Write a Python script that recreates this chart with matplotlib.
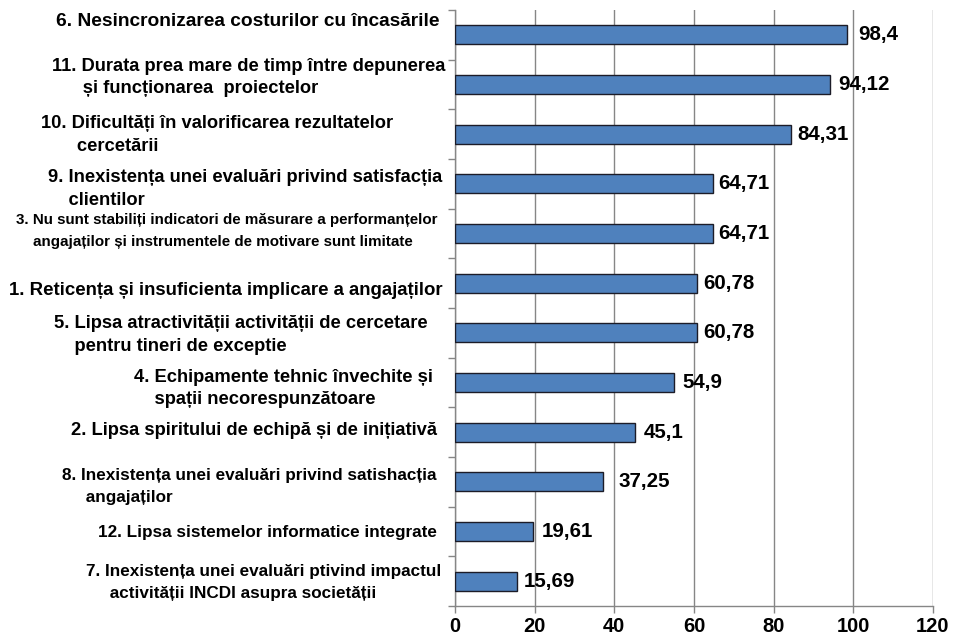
import numpy as np
import matplotlib
matplotlib.use("Agg")
import matplotlib.pyplot as plt

# Date (ordine de sus in jos)
etichete = [
    "6. Nesincronizarea costurilor cu încasările",
    "11. Durata prea mare de timp între depunerea\n      și funcționarea  proiectelor",
    "10. Dificultăți în valorificarea rezultatelor\n       cercetării",
    "9. Inexistența unei evaluări privind satisfacția\n    clientilor",
    "3. Nu sunt stabiliți indicatori de măsurare a performanțelor\n    angajaților și instrumentele de motivare sunt limitate",
    "1. Reticența și insuficienta implicare a angajaților",
    "5. Lipsa atractivității activității de cercetare\n    pentru tineri de exceptie",
    "4. Echipamente tehnic învechite și\n    spații necorespunzătoare",
    "2. Lipsa spiritului de echipă și de inițiativă",
    "8. Inexistența unei evaluări privind satishacția\n     angajaților",
    "12. Lipsa sistemelor informatice integrate",
    "7. Inexistența unei evaluări ptivind impactul\n     activității INCDI asupra societății",
]
valori = [98.4, 94.12, 84.31, 64.71, 64.71, 60.78, 60.78, 54.9, 45.1, 37.25, 19.61, 15.69]
xticks = [0, 20, 40, 60, 80, 100, 120]

# stil etichete: (dx, dy) in pixeli, marime font
deplasari = [(0, -13), (5, -7), (-47, 1), (2, 5.5), (-3, -2.5), (3, 7),
             (-12, 2), (-7, 6), (-3, -2), (-3, 5), (-3, 1), (1, 1)]
marimi = [13.8, 13.2, 13.2, 13.2, 10.9, 13.4, 13.2, 13.2, 13.2, 12.3, 12.3, 12.3]
spatii_valori = [11, 8, 7, 5, 5, 6, 6, 9, 9, 15, 9, 6]

FONT = "Liberation Sans"
DPI = 100
fig = plt.figure(figsize=(9.73, 6.37), dpi=DPI)
ax = fig.add_axes([455 / 973, 31 / 637, 478 / 973, 596 / 637])

y = np.arange(len(valori))
ax.barh(y, valori, height=0.38, color="#4F81BD", edgecolor="#1c1c28", linewidth=1.0, zorder=3)

ax.set_xlim(0, 120)
ax.set_ylim(len(valori) - 0.5, -0.5)
ax.set_xticks(xticks)
ax.set_xticklabels([str(t) for t in xticks], fontsize=14.5, fontweight="bold", family=FONT)
ax.set_yticks(np.arange(-0.5, len(valori), 1))
ax.set_yticklabels([])
ax.tick_params(axis="y", length=5, color="#868686", width=1)
ax.tick_params(axis="x", length=5, color="#868686", width=1, pad=3)
ax.grid(axis="x", color="#868686", linewidth=1, zorder=0)
for s in ["top", "right"]:
    ax.spines[s].set_visible(False)
for s in ["left", "bottom"]:
    ax.spines[s].set_color("#868686")
    ax.spines[s].set_linewidth(1)

# aprox. 24 px intre randuri
px = 72 / DPI
for i, (txt, v) in enumerate(zip(etichete, valori)):
    dx, dy = deplasari[i]
    ls = 24 / (marimi[i] / px * 0.9)
    ax.annotate(txt, xy=(0, i), xycoords=("axes fraction", "data"),
                xytext=((-15 + dx) * px, -dy * px), textcoords="offset points",
                ha="right", va="center", multialignment="left",
                fontsize=marimi[i], fontweight="bold", family=FONT,
                linespacing=ls)
    ax.annotate(str(v).replace(".", ","), xy=(v, i),
                xytext=(spatii_valori[i] * px, 0), textcoords="offset points",
                ha="left", va="center", fontsize=14.8, fontweight="bold", family=FONT)

fig.savefig("out.png", dpi=DPI)
